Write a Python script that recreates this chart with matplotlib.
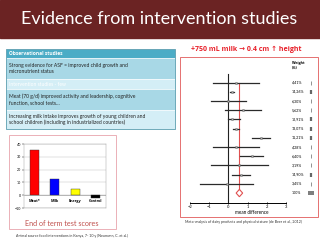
import matplotlib
matplotlib.use("Agg")
import matplotlib.pyplot as plt
from matplotlib.patches import Rectangle, Polygon

plt.rcParams['font.family'] = ['Lato', 'DejaVu Sans']
BOLD = ['Open Sans', 'DejaVu Sans']

# --- data ---
title = "Evidence from intervention studies"
table_rows = [
    "Observational studies",
    "Strong evidence for ASF = improved child growth and\nmicronutrient status",
    "Intervention studies - few",
    "Meat (70 g/d) improved activity and leadership, cognitive\nfunction, school tests\u2026",
    "Increasing milk intake improves growth of young children and\nschool children (including in industrialized countries)",
]

groups = ["Meat*", "Milk", "Energy", "Control"]
scores = [35, 13, 5, -2.5]
bar_colors = ["#ff0000", "#0000ff", "#ffff00", "#000000"]

study_mean = [0.41, 0.17, 0.0, 0.76, 0.19, 0.40, 1.68, 0.38, 1.20, 0.55, 0.64, -0.10]
study_lo = [-0.79, 0.10, -0.90, -0.19, 0.00, 0.25, 1.22, -0.79, 0.62, -0.90, 0.19, -1.49]
study_hi = [1.57, 0.30, 0.90, 1.69, 0.59, 0.55, 2.14, 1.57, 1.80, 2.05, 1.10, 1.28]
weights = [4.41, 14.26, 6.30, 5.62, 12.91, 13.07, 11.21, 4.28, 6.40, 3.19, 14.90, 3.45]
pooled = 0.57
pooled_lo = 0.40
pooled_hi = 0.74

fig = plt.figure(figsize=(3.2, 2.4), dpi=100)

# background canvas in pixel units
bg = fig.add_axes([0, 0, 1, 1])
bg.set_xlim(0, 320)
bg.set_ylim(240, 0)
bg.axis("off")

# banner
bg.add_patch(Rectangle((0, 0), 320, 38, color="#6b2323"))
bg.text(159, 19.5, title, color="white", fontsize=13, ha="center", va="center")

# table
row_edges = [49, 58, 79, 89, 110, 129]
row_cols = ["#4bacc6", "#a8d8e6", "#d4eef6", "#a8d8e6", "#d4eef6"]
for i, txt in enumerate(table_rows):
    y0, y1 = row_edges[i], row_edges[i + 1]
    bg.add_patch(Rectangle((6, y0), 169, y1 - y0, facecolor=row_cols[i],
                           edgecolor="white", lw=0.4))
    if i == 0:
        bg.text(9, (y0 + y1) / 2, txt, fontsize=3.5, color="white",
                fontweight="bold", family=BOLD, va="center")
    elif i == 2:
        bg.text(9, (y0 + y1) / 2, txt, fontsize=3.6, color="white", va="center")
    else:
        bg.text(9, (y0 + y1) / 2, txt, fontsize=3.6, color="#222222",
                va="center", linespacing=1.2)
bg.add_patch(Rectangle((6, 49), 169, 80, fill=False, edgecolor="#3a8aa0", lw=0.5))

# bar chart frame
bg.add_patch(Rectangle((9, 135), 107, 94, fill=False, edgecolor="#e8a4ac", lw=0.6))
bg.text(62, 224, "End of term test scores", color="#c0504d", fontsize=5.2,
        ha="center", va="center")
bg.text(16, 236, "Animal source food interventions in Kenya, 7- 10 y (Neumann, C. et al.)",
        fontsize=2.6, color="#333333", va="center")

# forest frame
bg.add_patch(Rectangle((180, 57), 138, 160, fill=False, edgecolor="#e05a5a", lw=0.6))
bg.text(246, 49, "+750 mL milk \u2192 0.4 cm \u2191 height", color="#e8202a",
        fontsize=5.0, fontweight="bold", family=BOLD, ha="center", va="center")
bg.text(185, 222, "Meta-analysis of dairy products and physical stature (de Beer et al., 2012)",
        fontsize=2.6, color="#333333", va="center")

# --- bar chart ---
ax = fig.add_axes([24 / 320, 1 - 208 / 240, 82 / 320, 64 / 240])
x = list(range(len(groups)))
ax.bar(x, scores, width=0.46, color=bar_colors, edgecolor="#333333", lw=0.3, zorder=3)
ax.set_xlim(-0.5, 3.5)
ax.set_ylim(-10, 40)
ax.set_yticks([-10, 0, 10, 20, 30, 40])
ax.tick_params(axis="y", labelsize=2.6, length=1.2, width=0.3, pad=1)
ax.set_xticks([])
ax.grid(axis="y", color="#bbbbbb", lw=0.3, zorder=0)
ax.axhline(0, color="#888888", lw=0.4, zorder=2)
for s in ax.spines.values():
    s.set_color("#999999")
    s.set_linewidth(0.3)
for xi, g in zip(x, groups):
    ax.text(xi, -4.5, g, fontsize=2.7, fontweight="bold", family=BOLD,
            ha="center", va="center")

# --- forest plot ---
fx = fig.add_axes([185 / 320, 1 - 203 / 240, 133 / 320, 143 / 240])
fx.set_xlim(-2 - 5 / 19.3, 3 + 32 / 19.3)
fx.set_ylim(14.08, -1.47)
fx.patch.set_alpha(0)
for side in ["top", "right", "left"]:
    fx.spines[side].set_visible(False)
fx.spines["bottom"].set_bounds(-2, 3)
fx.spines["bottom"].set_linewidth(0.7)
fx.set_yticks([])
fx.set_xticks([-2, -1, 0, 1, 2, 3])
fx.tick_params(axis="x", labelsize=3, length=2, width=0.6, pad=0.5, direction="inout")
fx.set_xlabel("mean difference", fontsize=3.3, labelpad=0.5)

rows = list(range(1, len(weights) + 1))
fx.plot([0, 0], [0, 14.08], color="#222222", lw=0.8)
fx.plot([pooled, pooled], [1, 13 - 0.4], color="#e05050", lw=0.8)
for r, m, lo, hi, w in zip(rows, study_mean, study_lo, study_hi, weights):
    fx.plot([lo, hi], [r, r], color="#2a2a2a", lw=0.9)
    fx.plot(m, r, marker="s", ms=1.3, color="#aaaaaa", mec="#555555", mew=0.3)
    fx.text(3.3, r, f"{w:.2f}%".replace(".", ","), fontsize=2.6, va="center")
    fx.plot(4.3, r, marker="|", ms=2.6, mew=0.5 if w < 10 else 1.6, color="#666666")
fx.add_patch(Polygon([[pooled_lo, 13], [pooled, 12.6], [pooled_hi, 13], [pooled, 13.4]],
                     closed=True, fill=False, edgecolor="#e05050", lw=0.8))
fx.text(3.3, 13, "100%", fontsize=2.6, va="center")
for dx in (-0.09, 0.0, 0.09):
    fx.plot(4.3 + dx, 13, marker="|", ms=2.6, mew=1.2, color="#666666")
fx.text(3.3, -0.9, "Weight\n(%)", fontsize=2.6, fontweight="bold", family=BOLD,
        va="center")

fig.savefig("out.png", dpi=100)
